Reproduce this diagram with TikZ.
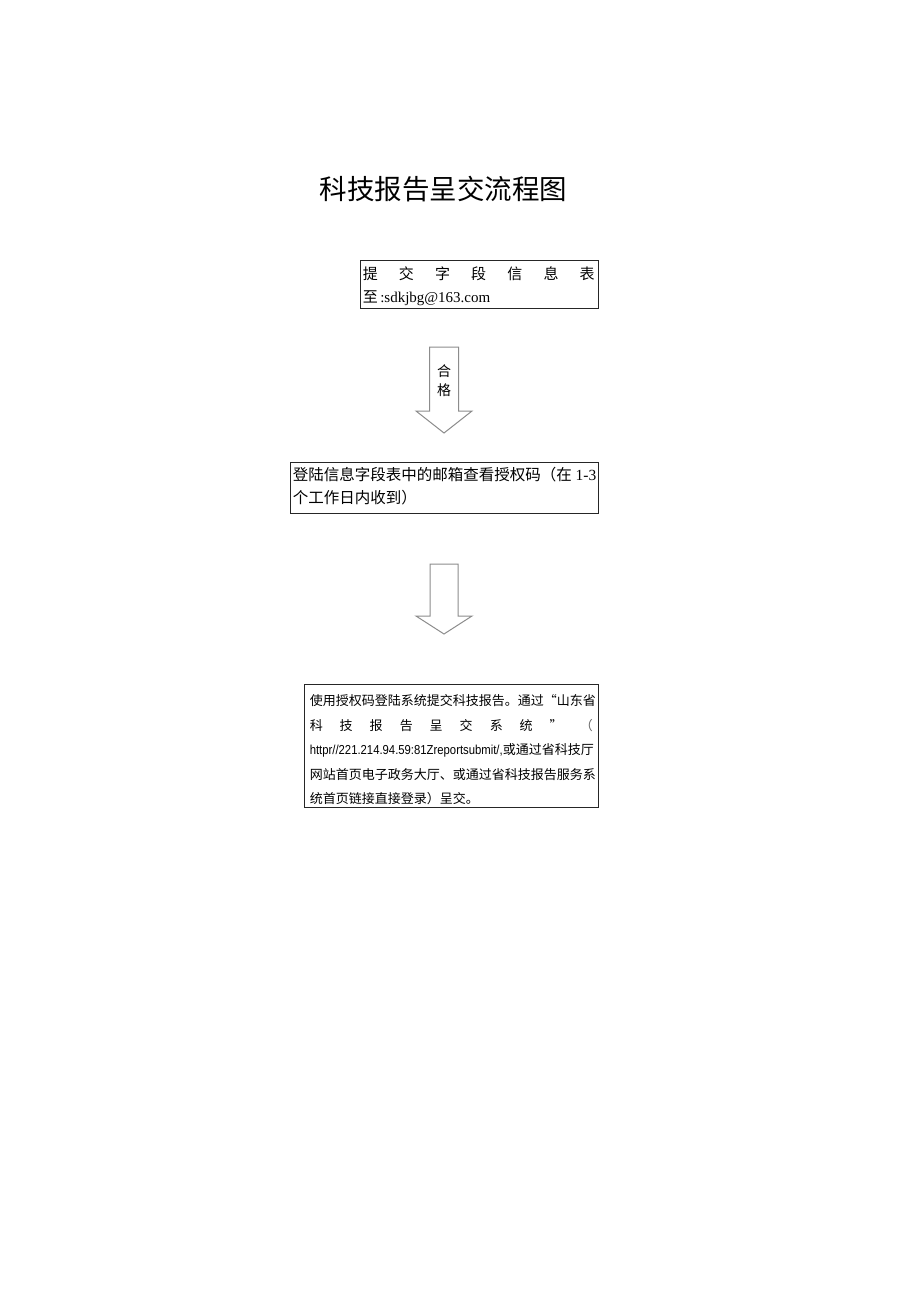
\documentclass[tikz,border=0pt]{standalone}
\usepackage{fontspec}
\setmainfont{Liberation Serif}
\setsansfont{Liberation Sans}
\newfontfamily\cjk{Noto Sans CJK SC}
\usetikzlibrary{calc}

\tikzset{
    box/.style={draw=black!85, line width=0.9pt, inner sep=0pt},
    textline/.style={anchor=base west, inner sep=0pt},
    blockarrow/.style={draw=black!45, line width=1pt, fill=white, line join=miter},
}

\begin{document}
\begin{tikzpicture}[x=1pt,y=-1pt]
    \useasboundingbox[fill=white] (0,0) rectangle (920,1301);
    % title
    \node[anchor=base, inner sep=0pt] (title) at (443.5,199)
        {\fontsize{27.5}{30}\selectfont\cjk 科技报告呈交流程图};
    % step 1: submit the form
    \node[box, minimum width=238, minimum height=48] (submit) at (479,284) {};
    \node[textline] (submitA) at ($(submit.north west)+(3,20)$)
        {\fontsize{15}{18}\selectfont\cjk\makebox[232pt][s]{提\hfill 交\hfill 字\hfill 段\hfill 信\hfill 息\hfill 表}};
    \node[textline] (submitB) at ($(submit.north west)+(3,43)$)
        {\fontsize{15}{18}\selectfont{\cjk 至}\,:sdkjbg@163.com};
    % arrow 1 (passed)
    \coordinate (arrowA) at (444,347);
    \draw[blockarrow] (arrowA) ++(-14.5,0) -- ++(29,0) -- ++(0,64) -- ++(13.5,0)
        -- ++(-28,22) -- ++(-28,-22) -- ++(13.5,0) -- cycle;
    \node[inner sep=0pt, align=center, font=\fontsize{14}{19}\selectfont\cjk] (passed)
        at ($(arrowA)+(0,34)$) {合\\格};
    % step 2: look up the code
    \node[box, minimum width=308, minimum height=51] (login) at (444,487.5) {};
    \node[textline] (loginA) at ($(login.north west)+(3,19)$)
        {\fontsize{15.5}{18}\selectfont{\cjk 登陆信息字段表中的邮箱查看授权码（在} 1-3};
    \node[textline] (loginB) at ($(login.north west)+(3,42)$)
        {\fontsize{15.5}{18}\selectfont\cjk 个工作日内收到）};
    % arrow 2
    \coordinate (arrowB) at (444,564);
    \draw[blockarrow] (arrowB) ++(-14,0) -- ++(28,0) -- ++(0,52) -- ++(14,0)
        -- ++(-28,18) -- ++(-28,-18) -- ++(14,0) -- cycle;
    % step 3: submit the report
    \node[box, minimum width=294, minimum height=123] (system) at (451,745.5) {};
    \node[textline] (systemA) at ($(system.north west)+(6,22)$)
        {\fontsize{13}{16}\selectfont\cjk 使用授权码登陆系统提交科技报告。通过“山东省};
    \node[textline] (systemB) at ($(system.north west)+(6,46.5)$)
        {\fontsize{13}{16}\selectfont\cjk\makebox[283pt][s]{科\hfill 技\hfill 报\hfill 告\hfill 呈\hfill 交\hfill 系\hfill 统\hfill ”\hfill {\color{black!60}（}}};
    \node[textline] (systemC) at ($(system.north west)+(6,71)$)
        {\fontsize{13}{16}\selectfont\scalebox{0.87}[1]{\sffamily httpr//221.214.94.59:81Zreportsubmit/,}{\cjk 或通过省科技厅}};
    \node[textline] (systemD) at ($(system.north west)+(6,95.5)$)
        {\fontsize{13}{16}\selectfont\cjk 网站首页电子政务大厅、或通过省科技报告服务系};
    \node[textline] (systemE) at ($(system.north west)+(6,120)$)
        {\fontsize{13}{16}\selectfont\cjk 统首页链接直接登录）呈交。};
\end{tikzpicture}
\end{document}
